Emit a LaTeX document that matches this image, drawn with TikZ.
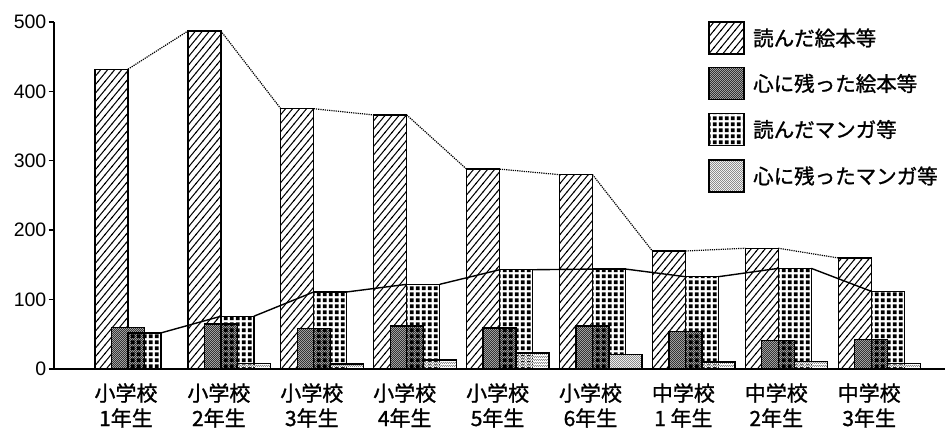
\documentclass[tikz,border=0pt]{standalone}
\usepackage{fontspec}
\setmainfont{Liberation Sans}
\newfontfamily\jp{Noto Sans CJK JP}[FakeBold=1.2]
\usetikzlibrary{patterns}
\pgfdeclarepatternformonly{hatchR}{\pgfqpoint{-1pt}{-1pt}}{\pgfqpoint{8pt}{9.5pt}}{\pgfqpoint{7pt}{8.5pt}}{%
  \pgfsetlinewidth{1pt}%
  \pgfpathmoveto{\pgfqpoint{-0.7pt}{-0.85pt}}\pgfpathlineto{\pgfqpoint{7.7pt}{9.35pt}}\pgfusepath{stroke}}
\pgfdeclarepatternformonly{sqdots}{\pgfpointorigin}{\pgfqpoint{6.2pt}{6.2pt}}{\pgfqpoint{6.2pt}{6.2pt}}{%
  \pgfpathrectangle{\pgfqpoint{1.1pt}{1.1pt}}{\pgfqpoint{4pt}{4pt}}\pgfusepath{fill}}
\pgfdeclarepatterninherentlycolored{darkchk}{\pgfpointorigin}{\pgfqpoint{2.4pt}{2.4pt}}{\pgfqpoint{2.4pt}{2.4pt}}{%
  \pgfsetfillcolor{black!30}\pgfpathrectangle{\pgfpointorigin}{\pgfqpoint{2.4pt}{2.4pt}}\pgfusepath{fill}%
  \pgfsetfillcolor{black!80}\pgfpathrectangle{\pgfpointorigin}{\pgfqpoint{1.2pt}{1.2pt}}%
  \pgfpathrectangle{\pgfqpoint{1.2pt}{1.2pt}}{\pgfqpoint{1.2pt}{1.2pt}}\pgfusepath{fill}}
\pgfdeclarepatterninherentlycolored{lightchk}{\pgfpointorigin}{\pgfqpoint{2.4pt}{2.4pt}}{\pgfqpoint{2.4pt}{2.4pt}}{%
  \pgfsetfillcolor{white}\pgfpathrectangle{\pgfpointorigin}{\pgfqpoint{2.4pt}{2.4pt}}\pgfusepath{fill}%
  \pgfsetfillcolor{black!45}\pgfpathrectangle{\pgfpointorigin}{\pgfqpoint{1.2pt}{1.2pt}}%
  \pgfpathrectangle{\pgfqpoint{1.2pt}{1.2pt}}{\pgfqpoint{1.2pt}{1.2pt}}\pgfusepath{fill}}
\tikzset{
  bar/.style={draw, line width=1.3pt, inner sep=0pt, outer sep=0pt, minimum width=33pt, anchor=south west},
  hbar/.style={bar, pattern=hatchR},
  dbar/.style={bar, pattern=darkchk},
  gbar/.style={bar, pattern=sqdots},
  lbar/.style={bar, pattern=lightchk},
  legbox/.style={draw, line width=1.3pt, inner sep=0pt, minimum width=35pt, minimum height=32pt},
  legtext/.style={anchor=west, inner sep=0pt, font=\jp\fontsize{20.5}{24}\selectfont},
  catlab/.style={align=center, inner sep=0pt, font=\jp\fontsize{21}{25}\selectfont},
  ticklab/.style={anchor=east, inner sep=0pt, font=\fontsize{19.5}{22}\selectfont},
  axis/.style={line width=1.4pt},
  hline/.style={densely dotted, line width=1.2pt},
  gline/.style={line width=1.4pt}
}
\begin{document}
\begin{tikzpicture}[x=1pt,y=1pt]
\useasboundingbox (0,0) rectangle (946,430);
% axes
\coordinate (ytop) at (54,407.5);
\coordinate (o) at (54,61);
\coordinate (xend) at (945,61);
\draw[axis] (ytop) -- (o) -- (xend);
\foreach \k in {0,...,5} {
  \coordinate (tk\k) at (54,61+69.4*\k);
  \coordinate (tl\k) at (48.5,61+69.4*\k);
  \draw[axis] (tl\k) -- (tk\k);
  \pgfmathtruncatemacro\v{100*\k}
  \node[ticklab] (t\k) at (46.5,61+69.4*\k) {\v};
}
% bars
\foreach \h/\d/\g/\l/\top/\bot [count=\i] in {
  432/60/52/0/小学校/1年生,
  487/65/76/8/小学校/2年生,
  375/58/111/7/小学校/3年生,
  366/62/122/13/小学校/4年生,
  288/59/143/23/小学校/5年生,
  280/62/144/21/小学校/6年生,
  170/54/133/10/中学校/1 年生,
  174/41/145/11/中学校/2年生,
  160/42/112/8/中学校/3年生} {
  \pgfmathsetmacro\x{95+92.9*(\i-1)}
  \pgfmathsetmacro\hh{\h*0.694}
  \pgfmathsetmacro\dd{\d*0.694}
  \pgfmathsetmacro\gg{\g*0.694}
  \pgfmathsetmacro\ll{\l*0.694}
  \node[hbar, minimum height=\hh pt] (h\i) at (\x,61) {};
  \node[dbar, minimum height=\dd pt] (d\i) at (\x+16.5,61) {};
  \node[gbar, minimum height=\gg pt] (g\i) at (\x+33,61) {};
  \ifnum\l>0
    \node[lbar, minimum height=\ll pt] (l\i) at (\x+49.5,61) {};
  \fi
  \node[catlab] (c\i) at (\x+31,24.5) {\top\\\bot};
}
% connecting lines
\foreach \i [evaluate=\i as \j using int(\i+1)] in {1,...,8} {
  \draw[hline] (h\i.north east) -- (h\j.north west);
  \draw[gline] (g\i.north east) -- (g\j.north west);
}
% legend
\node[legbox, pattern=hatchR] (k1) at (726.5,392) {};
\node[legbox, pattern=darkchk] (k2) at (726.5,346.5) {};
\node[legbox, pattern=sqdots] (k3) at (726.5,300.5) {};
\node[legbox, pattern=lightchk] (k4) at (726.5,254) {};
\node[legtext] (e1) at (753,392) {読んだ絵本等};
\node[legtext] (e2) at (753,346.5) {心に残った絵本等};
\node[legtext] (e3) at (753,300.5) {読んだマンガ等};
\node[legtext] (e4) at (753,254) {心に残ったマンガ等};
\end{tikzpicture}
\end{document}
